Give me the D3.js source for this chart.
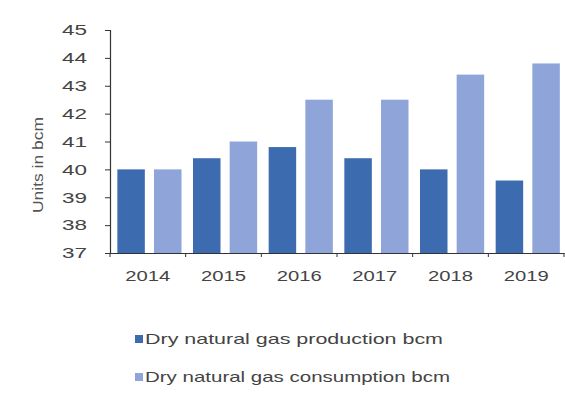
<!DOCTYPE html>
<html><head><meta charset="utf-8">
<script src="https://cdn.jsdelivr.net/npm/d3@7"></script>
<style>body{margin:0;background:#fff;}svg{display:block;font-family:"Liberation Sans",Arial,sans-serif;}</style>
</head><body>
<script>
const years = ["2014","2015","2016","2017","2018","2019"];
const production = [40.0, 40.4, 40.8, 40.4, 40.0, 39.6];
const consumption = [40.0, 41.0, 42.5, 42.5, 43.4, 43.8];
const seriesNames = ["Dry natural gas production bcm","Dry natural gas consumption bcm"];
const colors = ["#3d6bb0","#8fa5da"];
const yTicks = [37,38,39,40,41,42,43,44,45];

const W = 565, H = 394;
const svg = d3.select("body").append("svg").attr("width", W).attr("height", H);
const x0 = 110, x1 = 564, yTop = 30, yBot = 253;

const x = d3.scaleBand().domain(years).range([x0, x1]).paddingInner(0).paddingOuter(0);
const bw = x.bandwidth();
const xs = d3.scaleBand().domain([0,1]).range([bw*0.097, bw*0.945]).paddingInner(0.25).paddingOuter(0);
const y = d3.scaleLinear().domain([37,45]).range([yBot, yTop]);

const data = years.map((yr,i)=>({yr, vals:[production[i], consumption[i]]}));
const g = svg.append("g");
g.selectAll("g.grp").data(data).join("g").attr("class","grp")
  .attr("transform", d=>`translate(${x(d.yr)},0)`)
  .selectAll("rect").data(d=>d.vals.map((v,k)=>({v,k}))).join("rect")
  .attr("x", d=>xs(d.k)).attr("width", xs.bandwidth())
  .attr("y", d=>y(d.v)).attr("height", d=>yBot - y(d.v))
  .attr("fill", d=>colors[d.k]);

// Y axis
const ya = svg.append("g").attr("transform",`translate(${x0},0)`)
  .call(d3.axisLeft(y).tickValues(yTicks).tickSize(5).tickPadding(18).tickFormat(d3.format("d")));
ya.select(".domain").attr("stroke","#333").attr("stroke-width",1.2);
ya.selectAll(".tick line").attr("stroke","#333");
ya.selectAll("text").attr("font-size","15px").attr("fill","#444")
  .attr("textLength",25).attr("lengthAdjust","spacingAndGlyphs")
  .attr("font-family","Liberation Sans, Arial, sans-serif");

// X axis
const xa = svg.append("g").attr("transform",`translate(0,${yBot})`)
  .call(d3.axisBottom(x).tickSize(0).tickPadding(17));
xa.select(".domain").attr("stroke","#333").attr("stroke-width",1.2);
xa.selectAll("text").attr("font-size","15px").attr("fill","#444")
  .attr("textLength",45).attr("lengthAdjust","spacingAndGlyphs")
  .attr("font-family","Liberation Sans, Arial, sans-serif");
xa.selectAll("line.bt").data(years.map(d=>x(d)).concat([x1])).join("line").attr("class","bt")
  .attr("x1",d=>d).attr("x2",d=>d).attr("y1",0).attr("y2",4).attr("stroke","#333");

// Y label
svg.append("text").attr("transform","translate(43,165) rotate(-90)")
  .attr("text-anchor","middle").attr("font-size","14px").attr("fill","#555")
  .attr("textLength",96).attr("lengthAdjust","spacingAndGlyphs").text("Units in bcm");

// Legend
const legLen = [298, 305];
const legY = [339, 377];
const leg = svg.append("g");
seriesNames.forEach((n,i)=>{
  const yy = legY[i];
  leg.append("rect").attr("x",135).attr("y",yy-4).attr("width",8).attr("height",8).attr("fill",colors[i]);
  leg.append("text").attr("x",145).attr("y",yy).attr("dy","0.35em").attr("font-size","14.5px").attr("fill","#444")
    .attr("textLength",legLen[i]).attr("lengthAdjust","spacingAndGlyphs").text(n);
});
</script>
</body></html>
